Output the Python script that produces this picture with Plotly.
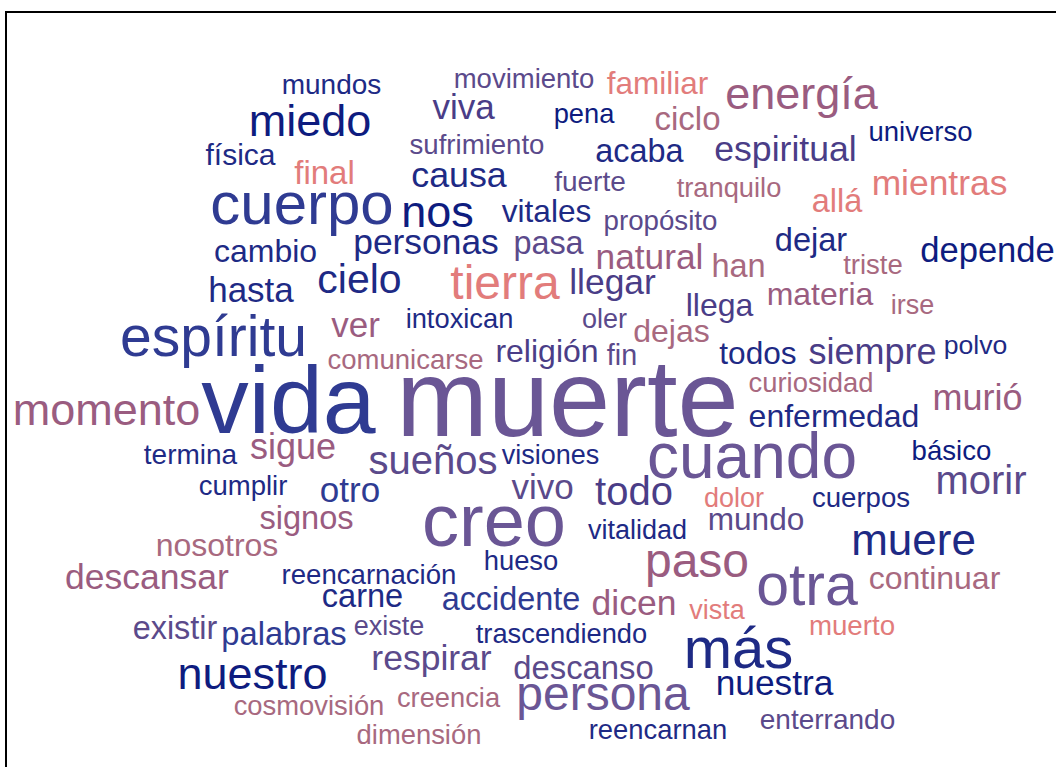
import plotly.graph_objects as go

# ---- word cloud data -------------------------------------------------------
words = [
    "muerte", "vida", "cuando", "creo", "espíritu", "cuerpo", "más", "otra",
    "persona", "paso", "tierra", "nuestro", "momento", "miedo", "energía", "nos",
    "muere", "cielo", "sueños", "morir", "todo", "siempre", "murió", "sigue",
    "ver", "otro", "descansar", "respirar", "espiritual", "mientras", "natural",
    "depende", "llegar", "hasta", "personas", "causa", "viva", "vivo", "dicen",
    "nuestra", "final", "ciclo", "continuar", "accidente", "descanso",
    "enfermedad", "todos", "religión", "cambio", "acaba", "vitales", "dejas",
    "llega", "materia", "allá", "dejar", "han", "familiar", "pasa", "signos",
    "nosotros", "carne", "existir", "palabras", "mundo", "física", "mundos",
    "movimiento", "pena", "sufrimiento", "fuerte", "tranquilo", "universo",
    "propósito", "triste", "irse", "intoxican", "oler", "polvo", "comunicarse",
    "fin", "curiosidad", "termina", "visiones", "básico", "cumplir", "dolor",
    "cuerpos", "vitalidad", "hueso", "reencarnación", "vista", "existe",
    "muerto", "trascendiendo", "creencia", "cosmovisión", "enterrando",
    "reencarnan", "dimensión",
]

# relative weight of each word (rendered as font size in px)
weights = [
    110, 95, 64, 74, 57, 60, 58, 59,
    48, 48, 48, 45, 45, 45, 45, 45,
    44, 41, 40, 40, 40, 36, 36, 36,
    35, 35, 35.5, 35.5, 35.6, 35.4, 35.3,
    34.6, 35.4, 35, 35.4, 35.8, 35, 35, 35.5,
    35.3, 33, 33, 32, 32.4, 32.8,
    32, 31.6, 32, 32, 32.4, 31.6, 32,
    32, 32, 32.5, 32.6, 32.5, 31.5, 32.4, 32.6,
    32, 32.6, 32.4, 32.7, 31.6, 30, 28,
    27.5, 27.3, 27.6, 28, 27.3, 27.5,
    27.7, 27.5, 27, 27.3, 27, 26.6, 27.5,
    28.7, 27.4, 28, 27, 27.6, 27.5, 27,
    27.6, 27, 27.4, 27.6, 27, 27,
    27.7, 27.3, 27.3, 27.4, 28,
    27.4, 27.4,
]

# colour group of each word
groups = [
    "violet", "blue", "violet", "violet", "blue", "blue", "navy2", "violet",
    "violet", "mauve", "salmon", "navy", "mauve", "navy", "mauve", "navy",
    "navy2", "navy2", "purple", "purple", "indigo", "indigo", "mauve", "mauve",
    "mauve", "blue", "mauve", "purple", "indigo", "salmon", "mauve",
    "navy", "indigo", "navy2", "navy2", "navy2", "indigo", "purple", "mauve",
    "navy", "salmon", "rose", "rose", "blue", "purple",
    "navy2", "navy2", "indigo", "navy2", "navy2", "navy2", "rose",
    "indigo", "mauve", "salmon", "navy2", "rose", "salmon", "purple", "mauve",
    "rose", "navy2", "purple", "blue", "purple", "navy2", "navy2",
    "purple", "navy", "purple", "purple", "rose", "navy",
    "purple", "rose", "rose", "navy2", "purple", "navy2", "rose",
    "purple", "rose", "navy2", "navy2", "navy", "navy2", "salmon",
    "navy2", "navy2", "navy2", "navy2", "salmon", "purple",
    "salmon", "navy2", "rose", "rose", "purple",
    "navy2", "rose",
]

# ---- layout of the cloud (pixel space: left edge, right edge, baseline) -----
x_left = [
    400, 205, 650, 425, 123, 212, 685, 758,
    518, 647, 452, 179, 15, 250, 727, 403,
    852, 320, 370, 937, 597, 810, 934, 252,
    332, 320, 67, 373, 716, 873, 597,
    922, 571, 209, 355, 413, 433, 512, 593,
    717, 293, 656, 870, 443, 515,
    750, 721, 497, 215, 597, 503, 635,
    687, 768, 813, 776, 713, 608, 515, 261,
    157, 323, 134, 223, 709, 204, 283,
    455, 555, 411, 555, 678, 870,
    605, 844, 892, 407, 583, 945, 330,
    608, 750, 145, 503, 913, 200, 705,
    813, 589, 485, 283, 690, 355,
    810, 477, 398, 235, 762,
    590, 358,
]
x_right = [
    735, 372, 854, 563, 304, 392, 792, 856,
    688, 747, 558, 326, 198, 370, 876, 472,
    975, 399, 496, 1025, 671, 935, 1021, 334,
    379, 380, 227, 490, 855, 1006, 702,
    1053, 654, 293, 497, 505, 494, 573, 675,
    832, 356, 719, 999, 579, 652,
    918, 795, 597, 316, 682, 590, 708,
    752, 872, 861, 846, 764, 707, 582, 352,
    277, 402, 216, 345, 803, 277, 380,
    593, 613, 543, 625, 780, 971,
    716, 902, 933, 512, 626, 1006, 481,
    636, 872, 236, 598, 990, 286, 763,
    909, 686, 557, 455, 744, 423,
    894, 646, 499, 383, 893,
    726, 480,
]
baseline = [
    432, 429, 475, 543, 353, 221, 665, 602,
    708, 575, 297, 687, 423, 134, 107, 225,
    553, 291, 472, 492, 503, 362, 408, 457,
    335, 500, 587, 668, 159, 193, 267,
    260, 292, 300, 252, 185, 117, 497, 613,
    693, 182, 128, 587, 608, 677,
    425, 362, 360, 260, 160, 220, 340,
    314, 303, 210, 249, 275, 92, 252, 527,
    554, 605, 637, 643, 528, 163, 92,
    86, 121, 152, 189, 195, 139,
    228, 272, 312, 326, 326, 352, 367,
    363, 390, 462, 462, 458, 493, 505,
    505, 537, 568, 582, 617, 633,
    633, 641, 705, 713, 727,
    737, 742,
]

palette = {
    "navy": "#0e1c7f",
    "navy2": "#1e2a85",
    "blue": "#2f3b92",
    "indigo": "#4a3d87",
    "purple": "#5b4a8b",
    "violet": "#6a5695",
    "mauve": "#9a5c80",
    "rose": "#a8697f",
    "salmon": "#e27c7b",
}

W, H = 1056, 767
BASE_SHIFT = 0.22  # baseline offset (in em) below a 'middle' text point
BASE_NUDGE = 1.0

xs = [(l + r) / 2 for l, r in zip(x_left, x_right)]
ys = [b + BASE_NUDGE - BASE_SHIFT * s for b, s in zip(baseline, weights)]
colors = [palette[g] for g in groups]

fig = go.Figure(
    go.Scatter(
        x=xs,
        y=ys,
        mode="text",
        text=words,
        textposition="middle center",
        textfont=dict(
            family="Liberation Sans, Arial, Helvetica, sans-serif",
            size=weights,
            color=colors,
        ),
        hoverinfo="skip",
        cliponaxis=False,
    )
)

fig.update_layout(
    width=W,
    height=H,
    margin=dict(l=0, r=0, t=0, b=0),
    paper_bgcolor="white",
    plot_bgcolor="white",
    showlegend=False,
    xaxis=dict(range=[0, W], visible=False, fixedrange=True),
    yaxis=dict(range=[H, 0], visible=False, fixedrange=True),
    shapes=[
        dict(
            type="rect", xref="x", yref="y",
            x0=6, y0=12, x1=W + 10, y1=H + 10,
            line=dict(color="black", width=2),
            fillcolor="rgba(0,0,0,0)",
        )
    ],
)

fig.write_html(
    "out.html",
    config={"displayModeBar": False, "staticPlot": True},
    post_script="document.body.style.margin='0px';",
)
